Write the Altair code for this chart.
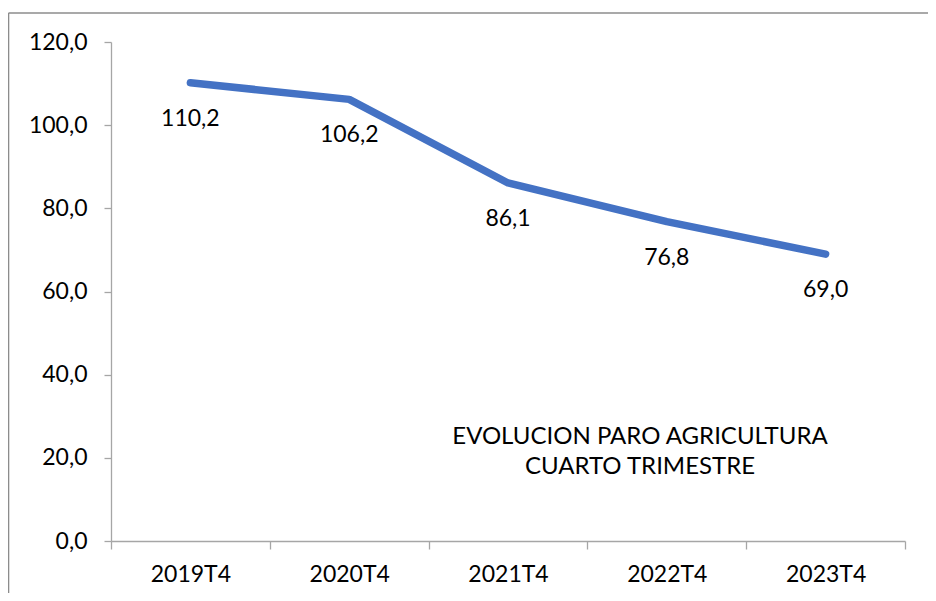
import altair as alt
import pandas as pd

quarters = ["2019T4", "2020T4", "2021T4", "2022T4", "2023T4"]
values = [110.2, 106.2, 86.1, 76.8, 69.0]
y_ticks = [0, 20, 40, 60, 80, 100, 120]
title_lines = ["EVOLUCION PARO AGRICULTURA", "CUARTO TRIMESTRE"]

df = pd.DataFrame({
    "q": quarters,
    "v": values,
    "lbl": [f"{v:.1f}".replace(".", ",") for v in values],
})

FONT = "Lato"
FS = 23
W, H = 794, 499

x_enc = alt.X("q:N", sort=quarters, title=None,
              scale=alt.Scale(type="band", paddingInner=0, paddingOuter=0),
              axis=alt.Axis(tickBand="extent", labelAngle=0, labelFont=FONT,
                            labelFontSize=FS, labelColor="#000000", labelPadding=14,
                            domainColor="#A6A6A6", tickColor="#A6A6A6", tickSize=8,
                            domainWidth=1.3, tickWidth=1.3))
y_enc = alt.Y("v:Q", title=None,
              scale=alt.Scale(domain=[0, 120], nice=False),
              axis=alt.Axis(values=y_ticks, grid=False,
                            labelExpr="replace(format(datum.value, '.1f'), '.', ',')",
                            labelFont=FONT, labelFontSize=FS, labelColor="#000000",
                            labelPadding=17, domainColor="#A6A6A6", tickColor="#A6A6A6",
                            tickSize=7, domainWidth=1.3, tickWidth=1.3))

base = alt.Chart(df)

line = base.mark_line(color="#4472C4", strokeWidth=7.5, strokeCap="round",
                      strokeJoin="round").encode(x=x_enc, y=y_enc)

labels = base.mark_text(font=FONT, fontSize=FS, color="#000000", dy=36,
                        align="center", baseline="middle").encode(
    x=alt.X("q:N", sort=quarters), y="v:Q", text="lbl:N")

annot = alt.Chart(pd.DataFrame({"t": [title_lines]})).mark_text(
    font=FONT, fontSize=24, color="#000000", align="center", baseline="middle",
    lineHeight=30).encode(
    x=alt.value(529), y=alt.value(395), text="t")

frame_top = alt.Chart(pd.DataFrame({"a": [0]})).mark_rule(
    color="#8C8C8C", strokeWidth=1.6, clip=False).encode(
    x=alt.value(-102.5), x2=alt.value(840), y=alt.value(-29))
frame_left = alt.Chart(pd.DataFrame({"a": [0]})).mark_rule(
    color="#8C8C8C", strokeWidth=1.6, clip=False).encode(
    x=alt.value(-102.5), y=alt.value(-29), y2=alt.value(600))

chart = alt.layer(frame_top, frame_left, line, labels, annot).properties(
    width=W, height=H,
    background="white",
    autosize=alt.AutoSizeParams(type="none"),
    padding={"left": 103, "top": 34, "right": 23, "bottom": 52},
).configure_view(stroke=None, strokeWidth=0)

chart.save("out.html", embed_options={"renderer": "svg", "actions": False})
